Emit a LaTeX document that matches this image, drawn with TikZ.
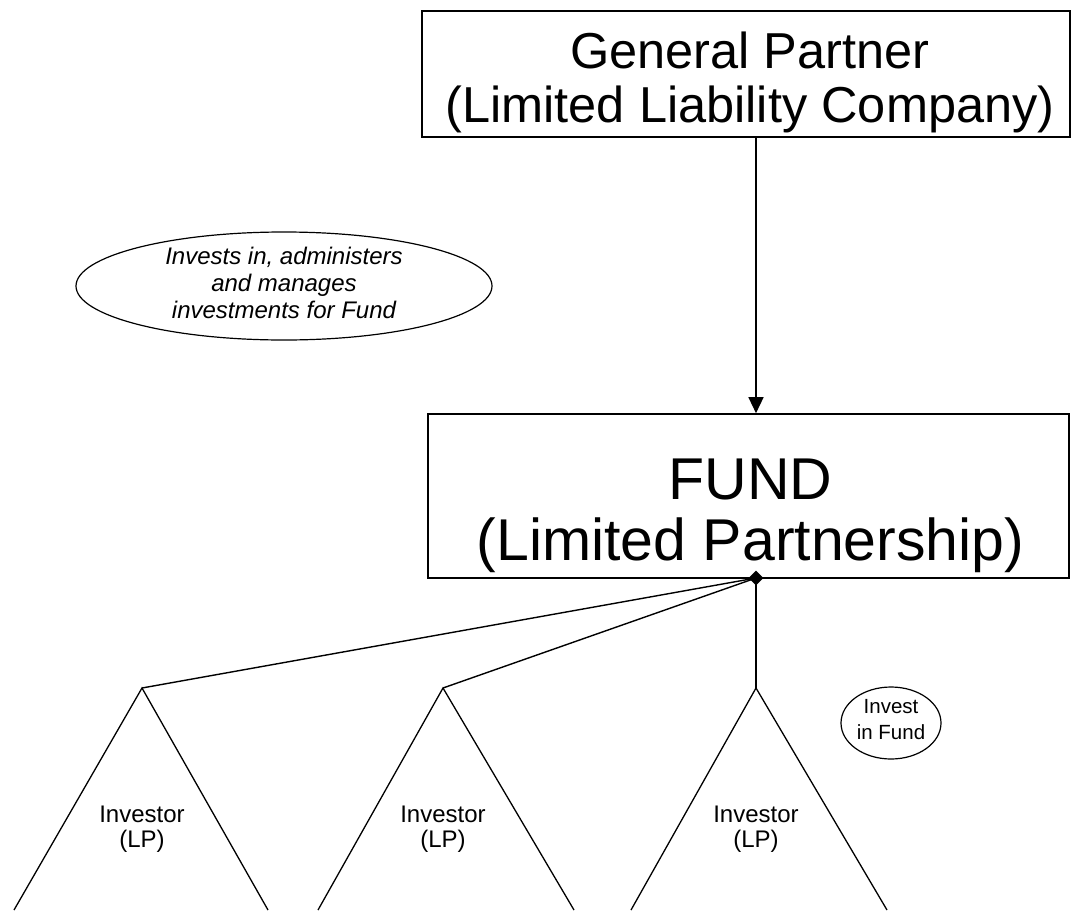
\documentclass[tikz,border=0pt]{standalone}
\usepackage{fontspec}
\setmainfont{Liberation Sans}
\usetikzlibrary{shapes.geometric,arrows.meta,calc}
\tikzset{
  entity/.style={draw, line width=1.6pt, inner sep=0pt},
  bubble/.style={draw, ellipse, line width=1.2pt, inner sep=0pt, align=center},
  link/.style={line width=1.4pt},
  tri/.style={line width=1.3pt},
  lbl/.style={align=center, inner sep=0pt},
}
\begin{document}
\begin{tikzpicture}[x=1pt,y=-1pt]
\useasboundingbox (0,0) rectangle (1073,910);
% boxes
\node[entity, minimum width=648pt, minimum height=126pt] (gp) at (746,74) {};
\node[lbl, font=\fontsize{50.5}{54}\selectfont] (gptext) at ($(gp.center)+(4,8)$)
      {General Partner\\(Limited Liability Company)};
\node[entity, minimum width=641pt, minimum height=164pt] (fund) at (748.5,496) {};
\node[lbl, font=\fontsize{59}{61}\selectfont] (fundtext) at ($(fund.center)+(2,20)$)
      {FUND\\(Limited Partnership)};
% hub and apexes
\coordinate (hub) at (756,578);
\coordinate (a1) at (142,688);
\coordinate (a2) at (443,688);
\coordinate (a3) at (756,688);
\coordinate (b1l) at (14,910);  \coordinate (b1r) at (268,910);
\coordinate (b2l) at (318,910); \coordinate (b2r) at (574,910);
\coordinate (b3l) at (631,910); \coordinate (b3r) at (887,910);
% arrow GP -> Fund
\draw[link, -{Triangle[width=15pt,length=16pt]}] (gp.south -| hub) -- (fund.north -| hub);
% links to investors
\draw[link] (hub) -- (a1);
\draw[link] (hub) -- (a2);
\draw[link] (hub) -- (a3);
\node[diamond, fill=black, inner sep=0pt, minimum size=15pt] (dia) at (hub) {};
% triangles
\begin{scope}
\clip (0,0) rectangle (1073,910);
\draw[tri] (b1l) -- (a1) -- (b1r);
\draw[tri] (b2l) -- (a2) -- (b2r);
\draw[tri] (b3l) -- (a3) -- (b3r);
\end{scope}
\node[lbl, font=\fontsize{24}{25}\selectfont] (inv1) at (142,829) {Investor\\(LP)};
\node[lbl, font=\fontsize{24}{25}\selectfont] (inv2) at (443,829) {Investor\\(LP)};
\node[lbl, font=\fontsize{24}{25}\selectfont] (inv3) at (756,829) {Investor\\(LP)};
% ellipses
\node[bubble, minimum width=416pt, minimum height=108pt] (manage) at (284,286) {};
\node[lbl, font=\itshape\fontsize{24}{27}\selectfont] (managetext) at ($(manage.center)+(0,-3)$)
      {Invests in, administers\\and manages\\investments for Fund};
\node[bubble, minimum width=100pt, minimum height=72pt] (investin) at (891,723) {};
\node[lbl, font=\fontsize{20.5}{26}\selectfont] (investtext) at ($(investin.center)+(0,-3)$)
      {Invest\\in Fund};
\end{tikzpicture}
\end{document}
